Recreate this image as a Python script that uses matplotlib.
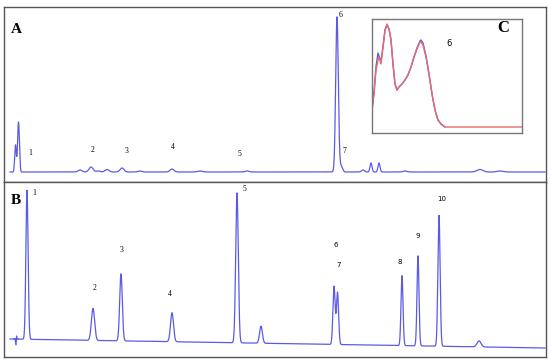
import numpy as np
import matplotlib
matplotlib.use("Agg")
import matplotlib.pyplot as plt

# ---------------- data ----------------
# Panel A chromatogram: peak retention (axis units), height, width (sigma)
a_rt = [15.5, 18.5, 80, 91, 98, 107, 122, 140, 172, 200, 247, 337, 341, 363, 371, 379, 405, 480, 500]
a_h = [27, 50, 2, 5, 1, 2.5, 4, 1, 3, 1, 1, 155, 6, 2, 9, 9, 1, 2.5, 1]
a_w = [0.8, 0.9, 2.0, 2.0, 2.0, 2.0, 2.0, 2.0, 2.0, 2.5, 2.0, 1.3, 1.5, 1.5, 1.0, 1.0, 2.0, 3.0, 3.0]
a_labels = ["1", "2", "3", "4", "5", "6", "7"]
a_lab_x = [30, 93, 127, 173, 239, 341, 344]
a_lab_y = [19, 22, 21, 25, 18, 157, 21]

# Panel B chromatogram
b_rt = [27, 93, 121, 172, 237, 261, 334, 337.5, 402, 418, 439, 479]
b_h = [149, 32, 67, 29, 150, 17, 58, 52, 70, 90, 131, 6]
b_w = [1.1, 1.6, 1.3, 1.5, 1.3, 1.4, 1.1, 1.1, 1.0, 1.0, 1.1, 2.0]
b_drift = [0, -9]  # baseline drift at start / end of run
b_labels = ["1", "2", "3", "4", "5", "6", "7", "8", "9", "10"]
b_lab_x = [34, 95, 122, 170, 244, 336, 339, 400, 418, 442]
b_lab_y = [146, 51, 89, 45, 150, 94, 74, 77, 103, 140]

# Inset C: UV spectra of peak 6 (wavelength, absorbance)
c_wl_red = [372, 374, 376, 378, 379, 381, 383, 385, 387, 389, 391, 393, 395, 397, 399,
            402, 405, 408, 411, 414, 417, 420, 421, 423, 426, 429, 432, 435, 438, 441, 445, 522]
c_ab_red = [17, 33, 57, 67, 70, 63, 80, 97, 103, 98, 87, 63, 43, 37, 40,
            43, 47, 52, 60, 70, 78, 85, 85, 82, 70, 53, 33, 17, 7, 3, 0, 0]
c_wl_blue = [372, 374, 376, 378, 380, 381, 383, 385, 387, 389, 391, 393, 395, 397, 399,
             402, 405, 408, 411, 414, 417, 420, 421, 423, 426, 429, 432, 435, 438, 441, 445]
c_ab_blue = [17, 35, 60, 74, 68, 66, 80, 97, 102, 98, 87, 63, 43, 37, 40,
             43, 47, 52, 60, 70, 79, 86, 87, 84, 71, 53, 33, 17, 7, 3, 0]

LINE = "#5a5ae6"

def trace(x, rts, hs, ws):
    y = np.zeros_like(x)
    for r, h, w in zip(rts, hs, ws):
        y += h * np.exp(-0.5 * ((x - r) / w) ** 2)
    return y

fig = plt.figure(figsize=(5.5, 3.63), dpi=100)
x = np.linspace(10, 545, 6000)

# ---- Panel A ----
axA = fig.add_axes([4 / 550, (363 - 182) / 363, 542 / 550, 175 / 363])
yA = trace(x, a_rt, a_h, a_w)
axA.plot(x, yA, color=LINE, lw=0.9)
axA.set_xlim(4, 546)
axA.set_ylim(-10, 165)
for lab, lx, ly in zip(a_labels, a_lab_x, a_lab_y):
    axA.text(lx, ly, lab, fontsize=5.5, family="Liberation Serif", ha="center", va="center")
axA.text(16, 143, "A", fontsize=11, fontweight="bold", family="Liberation Serif", ha="center", va="center")

# ---- Panel B ----
axB = fig.add_axes([4 / 550, (363 - 357) / 363, 542 / 550, 175 / 363])
drift = np.interp(x, [10, 545], b_drift)
yB = trace(x, b_rt, b_h, b_w) + drift
axB.plot(x, yB, color=LINE, lw=0.9)
# small injection blip
axB.plot([14, 15, 16, 16.6, 17, 18], [0, 0.5, -6, 3, 0, 0], color=LINE, lw=0.9)
axB.set_xlim(4, 546)
axB.set_ylim(-18, 157)
for i, (lab, lx, ly) in enumerate(zip(b_labels, b_lab_x, b_lab_y)):
    fam = "Liberation Serif" if i < 5 else "DejaVu Sans"
    axB.text(lx, ly, lab, fontsize=5.5 if i < 5 else 5, family=fam, ha="center", va="center")
axB.text(16, 139, "B", fontsize=11, fontweight="bold", family="Liberation Serif", ha="center", va="center")

for ax in (axA, axB):
    ax.set_xticks([])
    ax.set_yticks([])
    for s in ax.spines.values():
        s.set_color("#555555")
        s.set_linewidth(1.0)

# ---- Inset C ----
axC = fig.add_axes([372 / 550, (363 - 133) / 363, 150 / 550, 114 / 363])
axC.plot(c_wl_blue, c_ab_blue, color="#5a5ae6", lw=1.0)
axC.plot(c_wl_red, c_ab_red, color="#e86a6a", lw=1.0)
axC.set_xlim(372, 522)
axC.set_ylim(-6, 108)
axC.set_xticks([])
axC.set_yticks([])
for s in axC.spines.values():
    s.set_color("#777777")
    s.set_linewidth(1.0)
axC.text(449, 83, "6", fontsize=6, family="DejaVu Sans", ha="center", va="center")
axC.text(503, 99, "C", fontsize=12, fontweight="bold", family="Liberation Serif", ha="center", va="center")

fig.savefig("out.png", dpi=100)
